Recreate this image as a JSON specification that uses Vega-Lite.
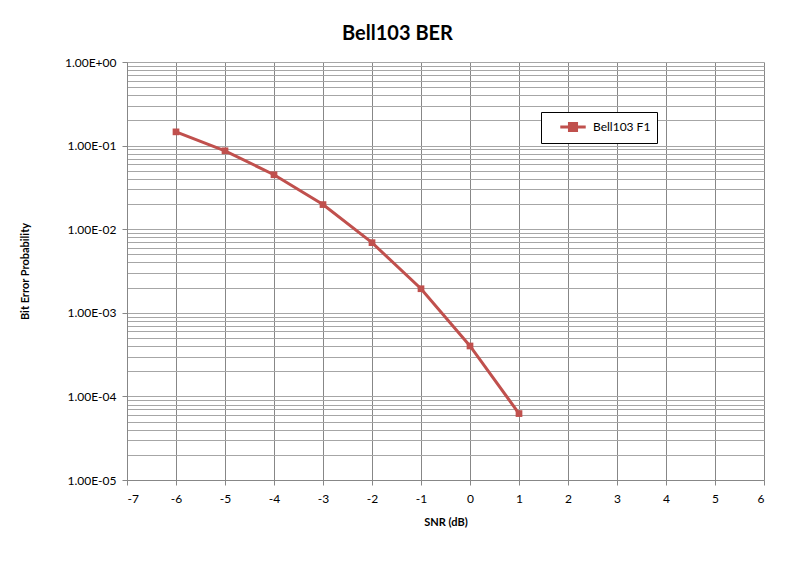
{
  "$schema": "https://vega.github.io/schema/vega-lite/v6.json",
  "width": 637,
  "height": 418,
  "autosize": {"type": "none"},
  "padding": {"left": 127, "top": 62, "right": 47, "bottom": 86},
  "background": "white",
  "title": {"text": "Bell103 BER", "font": "Lato", "fontSize": 20, "fontWeight": "bold", "color": "#000000", "anchor": "middle", "dx": -48, "offset": 12},
  "config": {"view": {"stroke": null}, "font": "Lato"},
  "data": {"values": [
    {"snr": -6, "ber": 0.146, "series": "Bell103 F1"},
    {"snr": -5, "ber": 0.0867, "series": "Bell103 F1"},
    {"snr": -4, "ber": 0.0448, "series": "Bell103 F1"},
    {"snr": -3, "ber": 0.0197, "series": "Bell103 F1"},
    {"snr": -2, "ber": 0.0069, "series": "Bell103 F1"},
    {"snr": -1, "ber": 0.00194, "series": "Bell103 F1"},
    {"snr": 0, "ber": 0.000401, "series": "Bell103 F1"},
    {"snr": 1, "ber": 0.0000623, "series": "Bell103 F1"}
  ]},
  "mark": {"type": "line", "strokeWidth": 3, "point": {"shape": "square", "size": 45, "filled": true, "opacity": 1}},
  "encoding": {
    "x": {"field": "snr", "type": "quantitative", "scale": {"domain": [-7, 6], "nice": false, "zero": false},
      "axis": {"title": "SNR (dB)", "titleFont": "Lato", "titleFontSize": 11, "titleFontWeight": "bold", "titleColor": "#000", "titlePadding": 12,
        "values": [-7,-6,-5,-4,-3,-2,-1,0,1,2,3,4,5,6], "labelExpr": "'' + datum.value", "labelFont": "Lato", "labelFontSize": 12, "labelColor": "#000", "labelPadding": 8,
        "grid": true, "gridColor": "#878787", "gridWidth": 1, "domainColor": "#878787", "tickColor": "#878787", "tickSize": 5}},
    "y": {"field": "ber", "type": "quantitative", "scale": {"type": "log", "domain": [0.00001, 1], "nice": false},
      "axis": {"title": "Bit Error Probability", "titleFont": "Lato", "titleFontSize": 11, "titleFontWeight": "bold", "titleColor": "#000", "titlePadding": 34,
        "values": [0.00001,0.00002,0.00003,0.00004,0.00005,0.00006,0.00007,0.00008,0.00009,
                   0.0001,0.0002,0.0003,0.0004,0.0005,0.0006,0.0007,0.0008,0.0009,
                   0.001,0.002,0.003,0.004,0.005,0.006,0.007,0.008,0.009,
                   0.01,0.02,0.03,0.04,0.05,0.06,0.07,0.08,0.09,
                   0.1,0.2,0.3,0.4,0.5,0.6,0.7,0.8,0.9,1],
        "labelExpr": "abs(log(datum.value)/LN10 - round(log(datum.value)/LN10)) < 0.000001 ? (datum.value >= 1 ? '1.00E+00' : '1.00E-0' + round(-log(datum.value)/LN10)) : ''",
        "labelFont": "Lato", "labelFontSize": 12, "labelColor": "#000", "labelPadding": 6,
        "grid": true, "gridColor": "#a6a6a6", "gridWidth": 1, "domainColor": "#878787", "tickColor": "#878787", "tickSize": 5,
        "tickOpacity": {"condition": {"test": "abs(log(datum.value)/LN10 - round(log(datum.value)/LN10)) < 0.000001", "value": 1}, "value": 0}}},
    "color": {"field": "series", "type": "nominal", "scale": {"range": ["#C0504D"]},
      "legend": {"title": null, "orient": "none", "legendX": 414, "legendY": 50, "direction": "vertical",
        "strokeColor": "#000", "fillColor": "#fff", "padding": 6, "labelFont": "Lato", "labelFontSize": 12, "labelColor": "#000",
        "symbolType": "M -1.8 0 L 1.8 0 M -0.5 -0.5 L 0.5 -0.5 L 0.5 0.5 L -0.5 0.5 Z",
        "symbolSize": 200, "symbolStrokeWidth": 3, "symbolFillColor": "#C0504D", "symbolStrokeColor": "#C0504D", "labelOffset": 11,
        "symbolOffset": 17, "offset": 0}}
  }
}
